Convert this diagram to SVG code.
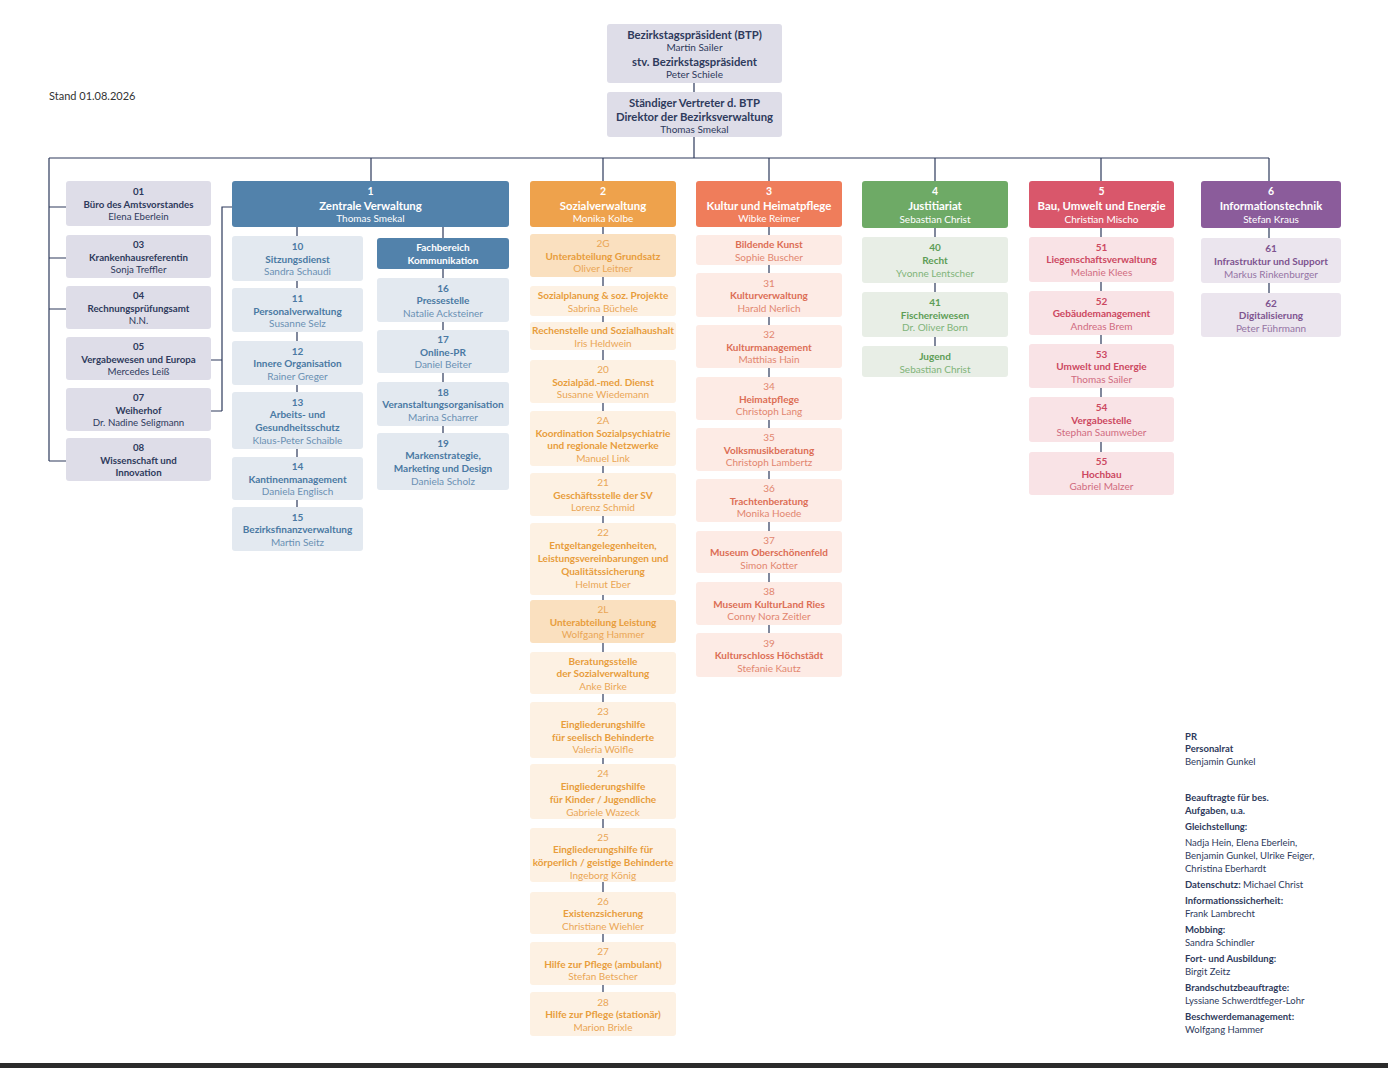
<svg xmlns="http://www.w3.org/2000/svg" width="1388" height="1068" viewBox="0 0 1388 1068">
<style>
text{font-family:Lato,"Liberation Sans",sans-serif;text-anchor:middle;dominant-baseline:central;font-size:10px}
.left text{font-size:9.7px}
.b{font-weight:700}
.hn{font-size:10.5px;font-weight:700;fill:#fff}
.ht{font-size:11.4px;font-weight:700;fill:#fff}
.hp{font-size:10px;fill:#fff}
.tb{font-size:11.3px;font-weight:700;fill:#2e3a5c}
.nv{fill:#2e3a5c}
.zt{fill:#4a79a3}.zp{fill:#6a90b3}
.st{fill:#e89d3c}.sp{fill:#eaa655}
.kt{fill:#dc6e55}.kp{fill:#e2866f}
.jt{fill:#5d9d56}.jp{fill:#80b479}
.bt{fill:#cc4861}.bp{fill:#d06b80}
.it{fill:#7e5490}.ip{fill:#9574a4}
.note{text-anchor:start;fill:#2e3a5c;font-size:9.5px}
.conn{stroke:#2e3a5c;stroke-width:1.2;fill:none}
.cg{fill:#dedde8}.cz{fill:#e3e9f0}.cs{fill:#fdf1e3}.cs2{fill:#fae0bf}.ck{fill:#fdebe5}.cj{fill:#e8eee6}.cb{fill:#f9e3e6}.ci{fill:#ebe5ee}
</style>
<rect x="0" y="0" width="1388" height="1068" fill="#fff"/>
<text x="49" y="95" style="text-anchor:start;font-size:11px;fill:#333">Stand 01.08.2026</text>

<g id="connectors" class="conn">
<path d="M694 83V92M694 137V158M49 158H1269M49 158V461M49 207H66M49 258H66M49 309H66M49 461H66"/>
<path d="M371 158V181M232 207H222V411M211 360H222M211 411H222M297 227V508M443 227V433"/>
<path d="M603 158V181M603 227V992M769 158V181M769 227V633M935 158V181M935 228V346M1101 158V181M1101 227V452M1269 158V181M1269 228V293"/>
</g>

<g id="btp"><rect x="607" y="24" width="175" height="59" rx="3" class="cg"/>
<text x="694.5" y="34" class="tb">Bezirkstagspräsident (BTP)</text><text x="694.5" y="47" class="nv">Martin Sailer</text>
<text x="694.5" y="61" class="tb">stv. Bezirkstagspräsident</text><text x="694.5" y="74" class="nv">Peter Schiele</text></g>
<g id="vertreter"><rect x="607" y="92" width="175" height="45" rx="3" class="cg"/>
<text x="694.5" y="102" class="tb">Ständiger Vertreter d. BTP</text><text x="694.5" y="116" class="tb">Direktor der Bezirksverwaltung</text><text x="694.5" y="129" class="nv">Thomas Smekal</text></g>

<g id="s01" class="left"><rect x="66" y="181" width="145" height="45" rx="3" class="cg"/><text x="138.5" y="191" class="nv b">01</text><text x="138.5" y="204" class="nv b">Büro des Amtsvorstandes</text><text x="138.5" y="216" class="nv">Elena Eberlein</text></g>
<g id="s03" class="left"><rect x="66" y="235" width="145" height="43" rx="3" class="cg"/><text x="138.5" y="244" class="nv b">03</text><text x="138.5" y="256.5" class="nv b">Krankenhausreferentin</text><text x="138.5" y="269" class="nv">Sonja Treffler</text></g>
<g id="s04" class="left"><rect x="66" y="286" width="145" height="43" rx="3" class="cg"/><text x="138.5" y="295" class="nv b">04</text><text x="138.5" y="307.5" class="nv b">Rechnungsprüfungsamt</text><text x="138.5" y="320" class="nv">N.N.</text></g>
<g id="s05" class="left"><rect x="66" y="337" width="145" height="43" rx="3" class="cg"/><text x="138.5" y="346" class="nv b">05</text><text x="138.5" y="358.5" class="nv b">Vergabewesen und Europa</text><text x="138.5" y="371" class="nv">Mercedes Leiß</text></g>
<g id="s07" class="left"><rect x="66" y="388" width="145" height="43" rx="3" class="cg"/><text x="138.5" y="397" class="nv b">07</text><text x="138.5" y="409.5" class="nv b">Weiherhof</text><text x="138.5" y="422" class="nv">Dr. Nadine Seligmann</text></g>
<g id="s08" class="left"><rect x="66" y="438" width="145" height="43" rx="3" class="cg"/><text x="138.5" y="447" class="nv b">08</text><text x="138.5" y="459.5" class="nv b">Wissenschaft und</text><text x="138.5" y="472" class="nv b">Innovation</text></g>

<g id="d1"><rect x="232" y="181" width="277" height="46" rx="3" fill="#5282ab"/><text x="370.5" y="191" class="hn">1</text><text x="370.5" y="205" class="ht">Zentrale Verwaltung</text><text x="370.5" y="218" class="hp">Thomas Smekal</text></g>
<g id="z10"><rect x="232" y="236" width="131" height="45" rx="3" class="cz"/><text x="297.5" y="246" class="zt b">10</text><text x="297.5" y="258.5" class="zt b">Sitzungsdienst</text><text x="297.5" y="271" class="zp">Sandra Schaudi</text></g>
<g id="z11"><rect x="232" y="288" width="131" height="44" rx="3" class="cz"/><text x="297.5" y="298" class="zt b">11</text><text x="297.5" y="310.5" class="zt b">Personalverwaltung</text><text x="297.5" y="323" class="zp">Susanne Selz</text></g>
<g id="z12"><rect x="232" y="341" width="131" height="44" rx="3" class="cz"/><text x="297.5" y="350.5" class="zt b">12</text><text x="297.5" y="363" class="zt b">Innere Organisation</text><text x="297.5" y="375.5" class="zp">Rainer Greger</text></g>
<g id="z13"><rect x="232" y="392" width="131" height="57" rx="3" class="cz"/><text x="297.5" y="401.5" class="zt b">13</text><text x="297.5" y="414" class="zt b">Arbeits- und</text><text x="297.5" y="427" class="zt b">Gesundheitsschutz</text><text x="297.5" y="440" class="zp">Klaus-Peter Schaible</text></g>
<g id="z14"><rect x="232" y="457" width="131" height="43" rx="3" class="cz"/><text x="297.5" y="466" class="zt b">14</text><text x="297.5" y="478.5" class="zt b">Kantinenmanagement</text><text x="297.5" y="491" class="zp">Daniela Englisch</text></g>
<g id="z15"><rect x="232" y="507" width="131" height="44" rx="3" class="cz"/><text x="297.5" y="516.5" class="zt b">15</text><text x="297.5" y="529" class="zt b">Bezirksfinanzverwaltung</text><text x="297.5" y="541.5" class="zp">Martin Seitz</text></g>
<g id="zfk"><rect x="377" y="238" width="132" height="31" rx="3" fill="#5282ab"/><text x="443" y="247" class="hp b">Fachbereich</text><text x="443" y="260" class="hp b">Kommunikation</text></g>
<g id="z16"><rect x="377" y="278" width="132" height="44" rx="3" class="cz"/><text x="443" y="287.5" class="zt b">16</text><text x="443" y="300" class="zt b">Pressestelle</text><text x="443" y="312.5" class="zp">Natalie Acksteiner</text></g>
<g id="z17"><rect x="377" y="330" width="132" height="43" rx="3" class="cz"/><text x="443" y="339" class="zt b">17</text><text x="443" y="351.5" class="zt b">Online-PR</text><text x="443" y="364" class="zp">Daniel Beiter</text></g>
<g id="z18"><rect x="377" y="382" width="132" height="44" rx="3" class="cz"/><text x="443" y="391.5" class="zt b">18</text><text x="443" y="404" class="zt b">Veranstaltungsorganisation</text><text x="443" y="416.5" class="zp">Marina Scharrer</text></g>
<g id="z19"><rect x="377" y="433" width="132" height="57" rx="3" class="cz"/><text x="443" y="442.5" class="zt b">19</text><text x="443" y="455" class="zt b">Markenstrategie,</text><text x="443" y="468" class="zt b">Marketing und Design</text><text x="443" y="481" class="zp">Daniela Scholz</text></g>

<g id="d2"><rect x="530" y="181" width="146" height="46" rx="3" fill="#eea24c"/><text x="603" y="191" class="hn">2</text><text x="603" y="205" class="ht">Sozialverwaltung</text><text x="603" y="218" class="hp">Monika Kolbe</text></g>
<g id="s2g"><rect x="530" y="234" width="146" height="43" rx="3" class="cs2"/><text x="603" y="243" class="sp">2G</text><text x="603" y="255.5" class="st b">Unterabteilung Grundsatz</text><text x="603" y="268" class="sp">Oliver Leitner</text></g>
<g id="ssp"><rect x="530" y="286" width="146" height="30" rx="3" class="cs"/><text x="603" y="295" class="st b">Sozialplanung &amp; soz. Projekte</text><text x="603" y="307.5" class="sp">Sabrina Büchele</text></g>
<g id="srs"><rect x="530" y="322" width="146" height="28" rx="3" class="cs"/><text x="603" y="330" class="st b">Rechenstelle und Sozialhaushalt</text><text x="603" y="342.5" class="sp">Iris Heldwein</text></g>
<g id="s20"><rect x="530" y="360" width="146" height="43" rx="3" class="cs"/><text x="603" y="369" class="sp">20</text><text x="603" y="381.5" class="st b">Sozialpäd.-med. Dienst</text><text x="603" y="394" class="sp">Susanne Wiedemann</text></g>
<g id="s2a"><rect x="530" y="411" width="146" height="55" rx="3" class="cs"/><text x="603" y="420" class="sp">2A</text><text x="603" y="432.5" class="st b">Koordination Sozialpsychiatrie</text><text x="603" y="445" class="st b">und regionale Netzwerke</text><text x="603" y="457.5" class="sp">Manuel Link</text></g>
<g id="s21"><rect x="530" y="473" width="146" height="43" rx="3" class="cs"/><text x="603" y="482" class="sp">21</text><text x="603" y="494.5" class="st b">Geschäftsstelle der SV</text><text x="603" y="507" class="sp">Lorenz Schmid</text></g>
<g id="s22"><rect x="530" y="523" width="146" height="72" rx="3" class="cs"/><text x="603" y="532" class="sp">22</text><text x="603" y="545" class="st b">Entgeltangelegenheiten,</text><text x="603" y="558" class="st b">Leistungsvereinbarungen und</text><text x="603" y="571" class="st b">Qualitätssicherung</text><text x="603" y="584" class="sp">Helmut Eber</text></g>
<g id="s2l"><rect x="530" y="600" width="146" height="43" rx="3" class="cs2"/><text x="603" y="609" class="sp">2L</text><text x="603" y="621.5" class="st b">Unterabteilung Leistung</text><text x="603" y="634" class="sp">Wolfgang Hammer</text></g>
<g id="sbs"><rect x="530" y="652" width="146" height="42" rx="3" class="cs"/><text x="603" y="660.5" class="st b">Beratungsstelle</text><text x="603" y="673" class="st b">der Sozialverwaltung</text><text x="603" y="685.5" class="sp">Anke Birke</text></g>
<g id="s23"><rect x="530" y="702" width="146" height="56" rx="3" class="cs"/><text x="603" y="711" class="sp">23</text><text x="603" y="723.5" class="st b">Eingliederungshilfe</text><text x="603" y="736.5" class="st b">für seelisch Behinderte</text><text x="603" y="749" class="sp">Valeria Wölfle</text></g>
<g id="s24"><rect x="530" y="764" width="146" height="55" rx="3" class="cs"/><text x="603" y="773" class="sp">24</text><text x="603" y="786" class="st b">Eingliederungshilfe</text><text x="603" y="799" class="st b">für Kinder / Jugendliche</text><text x="603" y="811.5" class="sp">Gabriele Wazeck</text></g>
<g id="s25"><rect x="530" y="828" width="146" height="54" rx="3" class="cs"/><text x="603" y="836.5" class="sp">25</text><text x="603" y="849" class="st b">Eingliederungshilfe für</text><text x="603" y="862" class="st b">körperlich / geistige Behinderte</text><text x="603" y="874.5" class="sp">Ingeborg König</text></g>
<g id="s26"><rect x="530" y="892" width="146" height="42" rx="3" class="cs"/><text x="603" y="900.5" class="sp">26</text><text x="603" y="913" class="st b">Existenzsicherung</text><text x="603" y="925.5" class="sp">Christiane Wiehler</text></g>
<g id="s27"><rect x="530" y="942" width="146" height="43" rx="3" class="cs"/><text x="603" y="951" class="sp">27</text><text x="603" y="963.5" class="st b">Hilfe zur Pflege (ambulant)</text><text x="603" y="976" class="sp">Stefan Betscher</text></g>
<g id="s28"><rect x="530" y="992" width="146" height="44" rx="3" class="cs"/><text x="603" y="1001.5" class="sp">28</text><text x="603" y="1014" class="st b">Hilfe zur Pflege (stationär)</text><text x="603" y="1026.5" class="sp">Marion Brixle</text></g>

<g id="d3"><rect x="696" y="181" width="146" height="46" rx="3" fill="#ef7d5b"/><text x="769" y="191" class="hn">3</text><text x="769" y="205" class="ht">Kultur und Heimatpflege</text><text x="769" y="218" class="hp">Wibke Reimer</text></g>
<g id="k30"><rect x="696" y="235" width="146" height="30" rx="3" class="ck"/><text x="769" y="244" class="kt b">Bildende Kunst</text><text x="769" y="256.5" class="kp">Sophie Buscher</text></g>
<g id="k31"><rect x="696" y="273" width="146" height="44" rx="3" class="ck"/><text x="769" y="282.5" class="kp">31</text><text x="769" y="295" class="kt b">Kulturverwaltung</text><text x="769" y="307.5" class="kp">Harald Nerlich</text></g>
<g id="k32"><rect x="696" y="325" width="146" height="43" rx="3" class="ck"/><text x="769" y="334" class="kp">32</text><text x="769" y="346.5" class="kt b">Kulturmanagement</text><text x="769" y="359" class="kp">Matthias Hain</text></g>
<g id="k34"><rect x="696" y="377" width="146" height="43" rx="3" class="ck"/><text x="769" y="386" class="kp">34</text><text x="769" y="398.5" class="kt b">Heimatpflege</text><text x="769" y="411" class="kp">Christoph Lang</text></g>
<g id="k35"><rect x="696" y="428" width="146" height="43" rx="3" class="ck"/><text x="769" y="437" class="kp">35</text><text x="769" y="449.5" class="kt b">Volksmusikberatung</text><text x="769" y="462" class="kp">Christoph Lambertz</text></g>
<g id="k36"><rect x="696" y="479" width="146" height="43" rx="3" class="ck"/><text x="769" y="488" class="kp">36</text><text x="769" y="500.5" class="kt b">Trachtenberatung</text><text x="769" y="513" class="kp">Monika Hoede</text></g>
<g id="k37"><rect x="696" y="531" width="146" height="42" rx="3" class="ck"/><text x="769" y="539.5" class="kp">37</text><text x="769" y="552" class="kt b">Museum Oberschönenfeld</text><text x="769" y="564.5" class="kp">Simon Kotter</text></g>
<g id="k38"><rect x="696" y="582" width="146" height="43" rx="3" class="ck"/><text x="769" y="591" class="kp">38</text><text x="769" y="603.5" class="kt b">Museum KulturLand Ries</text><text x="769" y="616" class="kp">Conny Nora Zeitler</text></g>
<g id="k39"><rect x="696" y="633" width="146" height="44" rx="3" class="ck"/><text x="769" y="642.5" class="kp">39</text><text x="769" y="655" class="kt b">Kulturschloss Höchstädt</text><text x="769" y="667.5" class="kp">Stefanie Kautz</text></g>

<g id="d4"><rect x="862" y="181" width="146" height="47" rx="3" fill="#6eaa66"/><text x="935" y="191" class="hn">4</text><text x="935" y="205.5" class="ht">Justitiariat</text><text x="935" y="219" class="hp">Sebastian Christ</text></g>
<g id="j40"><rect x="862" y="237" width="146" height="46" rx="3" class="cj"/><text x="935" y="247" class="jt b">40</text><text x="935" y="260" class="jt b">Recht</text><text x="935" y="273" class="jp">Yvonne Lentscher</text></g>
<g id="j41"><rect x="862" y="292" width="146" height="45" rx="3" class="cj"/><text x="935" y="302" class="jt b">41</text><text x="935" y="314.5" class="jt b">Fischereiwesen</text><text x="935" y="327" class="jp">Dr. Oliver Born</text></g>
<g id="jju"><rect x="862" y="346" width="146" height="31" rx="3" class="cj"/><text x="935" y="356" class="jt b">Jugend</text><text x="935" y="369" class="jp">Sebastian Christ</text></g>

<g id="d5"><rect x="1029" y="181" width="145" height="47" rx="3" fill="#d9576b"/><text x="1101.5" y="191" class="hn">5</text><text x="1101.5" y="205.5" class="ht">Bau, Umwelt und Energie</text><text x="1101.5" y="219" class="hp">Christian Mischo</text></g>
<g id="b51"><rect x="1029" y="237" width="145" height="45" rx="3" class="cb"/><text x="1101.5" y="246.5" class="bt b">51</text><text x="1101.5" y="259" class="bt b">Liegenschaftsverwaltung</text><text x="1101.5" y="272" class="bp">Melanie Klees</text></g>
<g id="b52"><rect x="1029" y="291" width="145" height="44" rx="3" class="cb"/><text x="1101.5" y="300.5" class="bt b">52</text><text x="1101.5" y="313" class="bt b">Gebäudemanagement</text><text x="1101.5" y="325.5" class="bp">Andreas Brem</text></g>
<g id="b53"><rect x="1029" y="344" width="145" height="44" rx="3" class="cb"/><text x="1101.5" y="353.5" class="bt b">53</text><text x="1101.5" y="366" class="bt b">Umwelt und Energie</text><text x="1101.5" y="378.5" class="bp">Thomas Sailer</text></g>
<g id="b54"><rect x="1029" y="397" width="145" height="45" rx="3" class="cb"/><text x="1101.5" y="407" class="bt b">54</text><text x="1101.5" y="419.5" class="bt b">Vergabestelle</text><text x="1101.5" y="432" class="bp">Stephan Saumweber</text></g>
<g id="b55"><rect x="1029" y="452" width="145" height="43" rx="3" class="cb"/><text x="1101.5" y="461" class="bt b">55</text><text x="1101.5" y="473.5" class="bt b">Hochbau</text><text x="1101.5" y="486" class="bp">Gabriel Malzer</text></g>

<g id="d6"><rect x="1201" y="181" width="140" height="47" rx="3" fill="#8b5c9b"/><text x="1271" y="191" class="hn">6</text><text x="1271" y="205.5" class="ht">Informationstechnik</text><text x="1271" y="219" class="hp">Stefan Kraus</text></g>
<g id="i61"><rect x="1201" y="238" width="140" height="45" rx="3" class="ci"/><text x="1271" y="248" class="it b">61</text><text x="1271" y="261" class="it b">Infrastruktur und Support</text><text x="1271" y="274" class="ip">Markus Rinkenburger</text></g>
<g id="i62"><rect x="1201" y="293" width="140" height="44" rx="3" class="ci"/><text x="1271" y="302.5" class="it b">62</text><text x="1271" y="315" class="it b">Digitalisierung</text><text x="1271" y="327.5" class="ip">Peter Führmann</text></g>

<g id="notes">
<text x="1185" y="736" class="note b">PR</text>
<text x="1185" y="748" class="note b">Personalrat</text>
<text x="1185" y="761" class="note">Benjamin Gunkel</text>
<text x="1185" y="797" class="note b">Beauftragte für bes.</text>
<text x="1185" y="810" class="note b">Aufgaben, u.a.</text>
<text x="1185" y="826" class="note b">Gleichstellung:</text>
<text x="1185" y="842" class="note">Nadja Hein, Elena Eberlein,</text>
<text x="1185" y="855" class="note">Benjamin Gunkel, Ulrike Feiger,</text>
<text x="1185" y="868" class="note">Christina Eberhardt</text>
<text x="1185" y="884" class="note"><tspan class="b">Datenschutz:</tspan> Michael Christ</text>
<text x="1185" y="900" class="note b">Informationssicherheit:</text>
<text x="1185" y="913" class="note">Frank Lambrecht</text>
<text x="1185" y="929" class="note b">Mobbing:</text>
<text x="1185" y="942" class="note">Sandra Schindler</text>
<text x="1185" y="958" class="note b">Fort- und Ausbildung:</text>
<text x="1185" y="971" class="note">Birgit Zeitz</text>
<text x="1185" y="987" class="note b">Brandschutzbeauftragte:</text>
<text x="1185" y="1000" class="note">Lyssiane Schwerdtfeger-Lohr</text>
<text x="1185" y="1016" class="note b">Beschwerdemanagement:</text>
<text x="1185" y="1029" class="note">Wolfgang Hammer</text>
</g>
<rect x="0" y="1063" width="1388" height="5" fill="#2b2b2b"/>
</svg>
